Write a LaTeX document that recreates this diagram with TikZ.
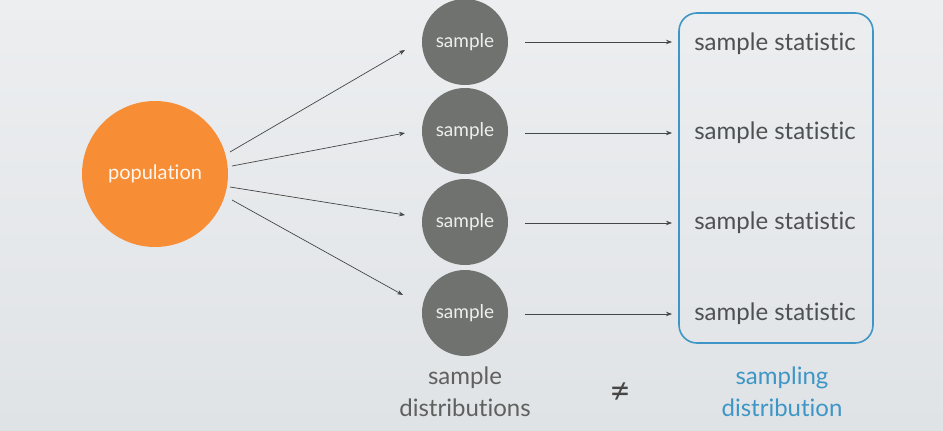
\documentclass[tikz,border=0pt]{standalone}
\usepackage{fontspec}
\setmainfont{Lato}[Ligatures=NoCommon]
\usetikzlibrary{arrows.meta}
\definecolor{bgtop}{RGB}{236,238,240}
\definecolor{bgbot}{RGB}{224,227,230}
\definecolor{popor}{RGB}{247,142,54}
\definecolor{sgray}{RGB}{112,114,112}
\definecolor{stxt}{RGB}{78,80,82}
\definecolor{bblue}{RGB}{62,150,198}
\definecolor{arr}{RGB}{70,70,70}
\tikzset{
  pop/.style={circle,fill=popor,minimum size=146pt,inner sep=0pt,text=white!92!popor,font=\fontsize{20}{20}\selectfont},
  samp/.style={circle,fill=sgray,minimum size=86pt,inner sep=0pt,text=white!88!sgray,font=\fontsize{19}{19}\selectfont},
  stat/.style={text=stxt,font=\fontsize{24}{24}\selectfont,inner sep=0pt},
  lab/.style={align=center,font=\fontsize{24}{32}\selectfont,inner sep=0pt},
  con/.style={draw=arr,line width=0.7pt,-{Stealth[length=6pt,width=4.5pt]}}
}
\begin{document}
\begin{tikzpicture}[x=1pt,y=-1pt]
\shade[top color=bgtop,bottom color=bgbot] (0,0) rectangle (943,431);
\useasboundingbox (0,0) rectangle (943,431);
\node[pop] (p) at (155,174) {population};
\node[samp] (s1) at (465,42) {sample};
\node[samp] (s2) at (465,131) {sample};
\node[samp] (s3) at (465,222) {sample};
\node[samp] (s4) at (465,313) {sample};
\draw[bblue,line width=1.6pt,rounded corners=18pt] (679,13) rectangle (873,343);
\node[stat] (t1) at (775,44) {sample statistic};
\node[stat] (t2) at (775,133) {sample statistic};
\node[stat] (t3) at (775,223) {sample statistic};
\node[stat] (t4) at (775,314) {sample statistic};
\coordinate (a1) at (230,152);
\coordinate (a2) at (232,166);
\coordinate (a3) at (230,187);
\coordinate (a4) at (232,200);
\draw[con] (a1) -- (405,50);
\draw[con] (a2) -- (405,133);
\draw[con] (a3) -- (405,215);
\draw[con] (a4) -- (403,295);
\foreach \i/\y in {1/42,2/133,3/223,4/314}{
  \draw[con] (525,\y) -- (672,\y);
}
\node[lab,text=sgray!85!black] (l1) at (465,392) {sample\\distributions};
\node[font=\fontsize{36}{36}\selectfont,text=arr,inner sep=0pt] (ne) at (620,393) {≠};
\node[lab,text=bblue] (l2) at (782,392) {sampling\\distribution};
\end{tikzpicture}
\end{document}
